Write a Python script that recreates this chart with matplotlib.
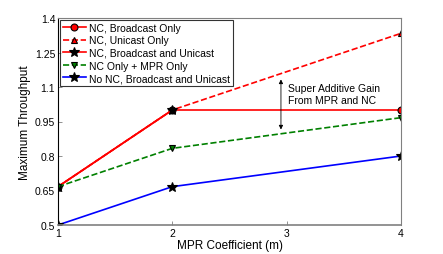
import matplotlib
matplotlib.use("Agg")
import matplotlib.pyplot as plt

# MPR coefficient
m = [1, 2, 4]
m_combo = [1, 2]

nc_broadcast = [0.6667, 1.0, 1.0]
nc_unicast = [0.6667, 1.0, 1.3333]
nc_combo = [0.6667, 1.0]
nc_mpr = [0.6667, 0.8333, 0.9667]
no_nc = [0.5, 0.6667, 0.8]

yticks = [0.5, 0.65, 0.8, 0.95, 1.1, 1.25, 1.4]
ytick_labels = ["0.5", "0.65", "0.8", "0.95", "1.1", "1.25", "1.4"]

plt.rcParams['font.family'] = ['Liberation Sans', 'DejaVu Sans']

fig = plt.figure(figsize=(4.43, 2.55), dpi=100)
ax = fig.add_axes([58 / 443, 29 / 255, 343 / 443, 207 / 255])

ms = 5
ax.plot(m, nc_broadcast, '-', color='red', lw=1.2, marker='o', ms=ms,
        mfc='red', mec='black', mew=0.8, label='NC, Broadcast Only')
ax.plot(m, nc_unicast, '--', color='red', lw=1.2, marker='^', ms=ms,
        mfc='red', mec='black', mew=0.8, label='NC, Unicast Only')
ax.plot(m_combo, nc_combo, '-', color='red', lw=1.2, marker='*', ms=ms + 2,
        mfc='black', mec='black', mew=0.8, label='NC, Broadcast and Unicast')
ax.plot(m, nc_mpr, '--', color='green', lw=1.2, marker='v', ms=ms,
        mfc='green', mec='black', mew=0.8, label='NC Only + MPR Only')
ax.plot(m, no_nc, '-', color='blue', lw=1.2, marker='*', ms=ms + 2,
        mfc='black', mec='black', mew=0.8, label='No NC, Broadcast and Unicast')

# gain arrow
ax.annotate('', xy=(2.95, 0.903), xytext=(2.95, 1.145),
            arrowprops=dict(arrowstyle='<|-|>', color='black', lw=0.6,
                            mutation_scale=6))
ax.text(3.01, 1.07, 'Super Additive Gain\nFrom MPR and NC', fontsize=7.5,
        va='center', ha='left', linespacing=1.2)

ax.set_xlim(1, 4)
ax.set_ylim(0.5, 1.4)
ax.set_xticks([1, 2, 3, 4])
ax.set_yticks(yticks)
ax.set_yticklabels(ytick_labels)
ax.tick_params(direction='in', labelsize=7.5, length=3, width=0.6, pad=2,
               colors='#808080', labelcolor='black')
for s in ['top', 'right', 'bottom']:
    ax.spines[s].set_color('#808080')
ax.spines['left'].set_color('black')
ax.spines['bottom'].set_linewidth(1.2)

ax.set_xlabel('MPR Coefficient (m)', fontsize=8.5, labelpad=1)
ax.set_ylabel('Maximum Throughput', fontsize=8.5, labelpad=3)

leg = ax.legend(loc='upper left', fontsize=7.5, frameon=True, fancybox=False,
                handlelength=2.2, borderpad=0.3, labelspacing=0.25,
                handletextpad=0.3, borderaxespad=0.15)
leg.get_frame().set_edgecolor('black')
leg.get_frame().set_linewidth(0.8)

fig.savefig('out.png', dpi=100)
